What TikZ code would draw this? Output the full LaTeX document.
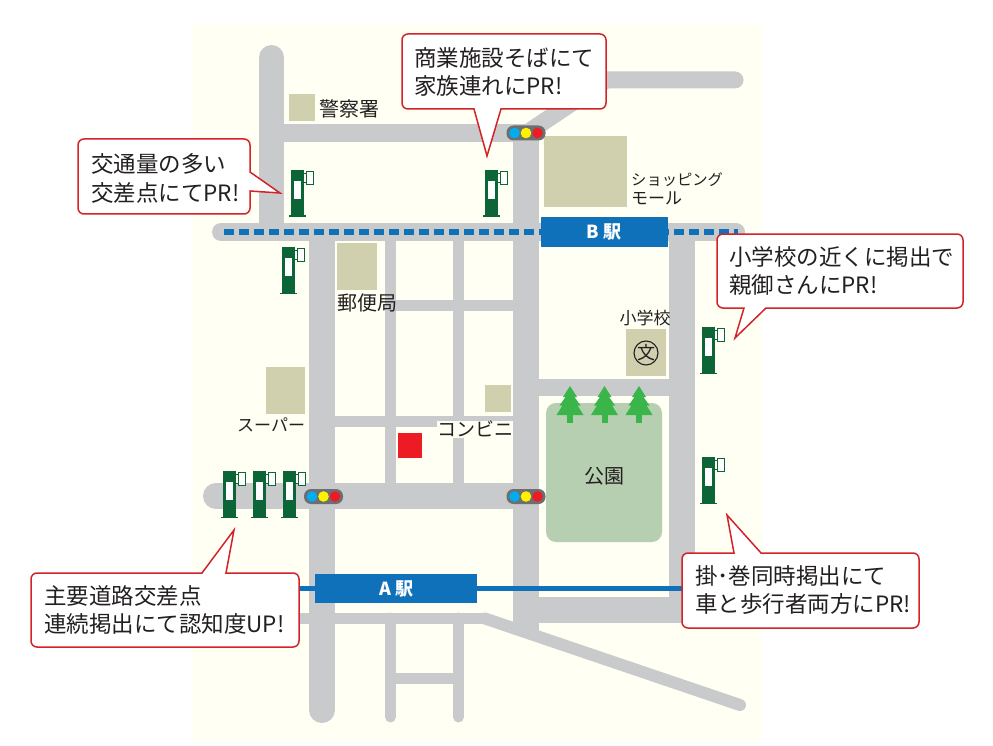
\documentclass[tikz,border=0pt]{standalone}
\usepackage{fontspec}
\setmainfont{Noto Sans CJK JP}
\begin{document}
\begin{tikzpicture}[x=1pt,y=-1pt,
  road/.style={draw=roadgray,line width=#1,line cap=butt},
  rroad/.style={draw=roadgray,line width=#1,line cap=round},
  bub/.style={draw=bubred,fill=white,line width=1.5pt,line join=miter},
  btext/.style={font=\fontsize{22.5}{25}\selectfont,text=txt,anchor=west,inner sep=0pt},
  mtext/.style={font=\fontsize{20}{22}\selectfont,text=txt,inner sep=0pt},
  stext/.style={font=\fontsize{17}{18}\selectfont,text=txt,inner sep=0pt},
  sta/.style={font=\fontsize{18}{18}\selectfont\bfseries,text=white,inner sep=0pt},
  signal/.pic={
    \fill[sigrim,rounded corners=7pt] (-19.5,-7.5) rectangle (19.5,7.5);
    \fill[sigb] (-11.5,0) circle (5.3);
    \fill[sigy] (0,0) circle (5.3);
    \fill[sigr] (11.5,0) circle (5.3);
  },
  board/.pic={
    \fill[signgreen] (0,0) rectangle (13,46);
    \fill[signgreen] (-2,45.5) rectangle (15,46.7);
    \fill[white] (3,11) rectangle (10,29);
    \draw[signgreen,line width=.7pt] (13,3) -- (15,3) (13,12) -- (15,12);
    \draw[signgreen,fill=white,line width=.8pt] (15,1.5) rectangle (22.5,14.5);
  },
  tree/.pic={
    \fill[treegreen] (-3,37) rectangle (3,26);
    \fill[treegreen] (0,0) -- (7,11) -- (4.5,11) -- (10.5,19.5) -- (7.5,19.5) -- (13.5,29) -- (-13.5,29) -- (-7.5,19.5) -- (-10.5,19.5) -- (-4.5,11) -- (-7,11) -- cycle;
  }]
\definecolor{roadgray}{HTML}{C9CACC}
\definecolor{bldgcol}{HTML}{D1D0AE}
\definecolor{bubred}{HTML}{D2232A}
\definecolor{txt}{HTML}{231F20}
\definecolor{cream}{HTML}{FFFFF3}
\definecolor{stablue}{HTML}{1071BB}
\definecolor{sigrim}{HTML}{6D6E71}
\definecolor{sigb}{HTML}{00AEEF}
\definecolor{sigy}{HTML}{FFF200}
\definecolor{sigr}{HTML}{ED1C24}
\definecolor{signgreen}{HTML}{0B6536}
\definecolor{treegreen}{HTML}{3AB54A}
\definecolor{parkcol}{HTML}{B7CFB1}
\useasboundingbox (0,0) rectangle (993,746);
\fill[white] (0,0) rectangle (993,746);
\fill[cream] (192,24) rectangle (762,742);
% roads
\draw[road=18pt] (284,133) -- (526,133);
\draw[rroad=17pt] (527,133) -- (606,80) -- (735,80);
\draw[road=26pt] (526,133) -- (526,632);
\draw[road=26pt] (682,232) -- (682,623);
\draw[rroad=18pt] (221,232) -- (736,232);
\draw[road=25pt] (271.5,57.5) -- (271.5,232);
\fill[roadgray] (271.5,57.5) circle (12.5);
\draw[road=26pt] (322,232) -- (322,710);
\fill[roadgray] (322,710) circle (13);
\draw[road=11pt] (390.5,232) -- (390.5,490);
\draw[road=11pt] (458.5,232) -- (458.5,490);
\draw[rroad=11pt] (390.5,618) -- (390.5,717);
\draw[rroad=11pt] (458.5,618) -- (458.5,717);
\draw[road=11pt] (385,305.5) -- (526,305.5);
\draw[road=11pt] (322,421) -- (526,421);
\draw[rroad=26pt] (216,496) -- (526,496);
\draw[road=17pt] (526,387.5) -- (682,387.5);
\draw[road=26pt] (526,610) -- (695,610);
\draw[road=11pt] (300,618.5) -- (485,618.5);
\draw[rroad=12pt] (485,618.5) -- (740,705);
\draw[road=11pt] (390.5,678.5) -- (458.5,678.5);
% lines and stations
\draw[draw=stablue,line width=5pt] (300,588.5) -- (685,588.5);
\draw[draw=stablue,line width=5pt,dash pattern=on 10pt off 5pt] (224,232) -- (738,232);
\node[fill=stablue,minimum width=162pt,minimum height=29pt,inner sep=0pt] (stationA) at (396,588.5) {};
\node[sta] (stationAlabel) at (396,589) {A 駅};
\node[fill=stablue,minimum width=127pt,minimum height=30pt,inner sep=0pt] (stationB) at (604.5,232) {};
\node[sta] (stationBlabel) at (604,231.5) {B 駅};
% buildings
\fill[bldgcol] (289,94) rectangle (315,121);
\fill[bldgcol] (544,136) rectangle (627,207);
\fill[bldgcol] (337,243) rectangle (377,290);
\fill[bldgcol] (626,329) rectangle (666,376);
\fill[bldgcol] (266,367) rectangle (305,414);
\fill[bldgcol] (485,385) rectangle (511,412);
\fill[sigr] (398,433) rectangle (422,458);
% park
\fill[parkcol,rounded corners=10pt] (546,403) rectangle (662,542);
\foreach \tx in {570,604.5,639} \pic at (\tx,386) {tree};
% labels
\fill[cream] (437,421) rectangle (513,438);
\node[mtext,anchor=west] (police) at (319,109) {警察署};
\node[mtext,anchor=west] (post) at (337,303) {郵便局};
\node[mtext,anchor=west,font=\fontsize{17}{18}\selectfont] (super) at (237,425) {スーパー};
\node[mtext,anchor=west,font=\fontsize{19}{20}\selectfont] (conv) at (437,429) {コンビニ};
\node[mtext] (park) at (604.5,476) {公園};
\node[stext,anchor=west,font=\fontsize{15.3}{18}\selectfont] (shop1) at (631,180) {ショッピング};
\node[stext,anchor=west] (shop2) at (631,198) {モール};
\node[stext] (school) at (645,318) {小学校};
\draw[txt,line width=1.1pt] (646,353) circle (12);
\node[stext,font=\fontsize{18}{18}\selectfont] (bun) at (646,353) {文};
% signals
\pic at (526,133) {signal};
\pic at (323.5,496.5) {signal};
\pic at (526,496.5) {signal};
% boards
\foreach \bx/\by in {291/170,485/170,282/247,702/327,702/457,223/471,253/471,283/471}
  \pic at (\bx,\by) {board};
% bubbles
\draw[bub] (84,139) -- (244,139) arc[start angle=-90,end angle=0,radius=6] -- (250,172) -- (280,193) -- (250,191) -- (250,208) arc[start angle=0,end angle=90,radius=6] -- (84,214) arc[start angle=90,end angle=180,radius=6] -- (78,145) arc[start angle=180,end angle=270,radius=6] -- cycle;
\node[btext] (b1a) at (91,164) {交通量の多い};
\node[btext] (b1b) at (91,193) {交差点にてPR!};
\draw[bub] (408,34) -- (600,34) arc[start angle=-90,end angle=0,radius=6] -- (606,103) arc[start angle=0,end angle=90,radius=6] -- (501,109) -- (487,156) -- (474,109) -- (408,109) arc[start angle=90,end angle=180,radius=6] -- (402,40) arc[start angle=180,end angle=270,radius=6] -- cycle;
\node[btext] (b2a) at (414,58) {商業施設そばにて};
\node[btext] (b2b) at (414,86) {家族連れにPR!};
\draw[bub] (723,234) -- (957,234) arc[start angle=-90,end angle=0,radius=6] -- (963,302) arc[start angle=0,end angle=90,radius=6] -- (766,308) -- (735,338) -- (744,308) -- (723,308) arc[start angle=90,end angle=180,radius=6] -- (717,240) arc[start angle=180,end angle=270,radius=6] -- cycle;
\node[btext] (b3a) at (729,257) {小学校の近くに掲出で};
\node[btext] (b3b) at (729,285) {親御さんにPR!};
\draw[bub] (688,553) -- (734,553) -- (727,515) -- (761,553) -- (913,553) arc[start angle=-90,end angle=0,radius=6] -- (919,622) arc[start angle=0,end angle=90,radius=6] -- (688,628) arc[start angle=90,end angle=180,radius=6] -- (682,559) arc[start angle=180,end angle=270,radius=6] -- cycle;
\node[btext] (b4a) at (695,576) {掛･巻同時掲出にて};
\node[btext] (b4b) at (695,604) {車と歩行者両方にPR!};
\draw[bub] (37,573) -- (202,573) -- (234,530) -- (226,573) -- (293,573) arc[start angle=-90,end angle=0,radius=6] -- (299,641) arc[start angle=0,end angle=90,radius=6] -- (37,647) arc[start angle=90,end angle=180,radius=6] -- (31,579) arc[start angle=180,end angle=270,radius=6] -- cycle;
\node[btext] (b5a) at (44,596) {主要道路交差点};
\node[btext] (b5b) at (44,624) {連続掲出にて認知度UP!};
\end{tikzpicture}
\end{document}
